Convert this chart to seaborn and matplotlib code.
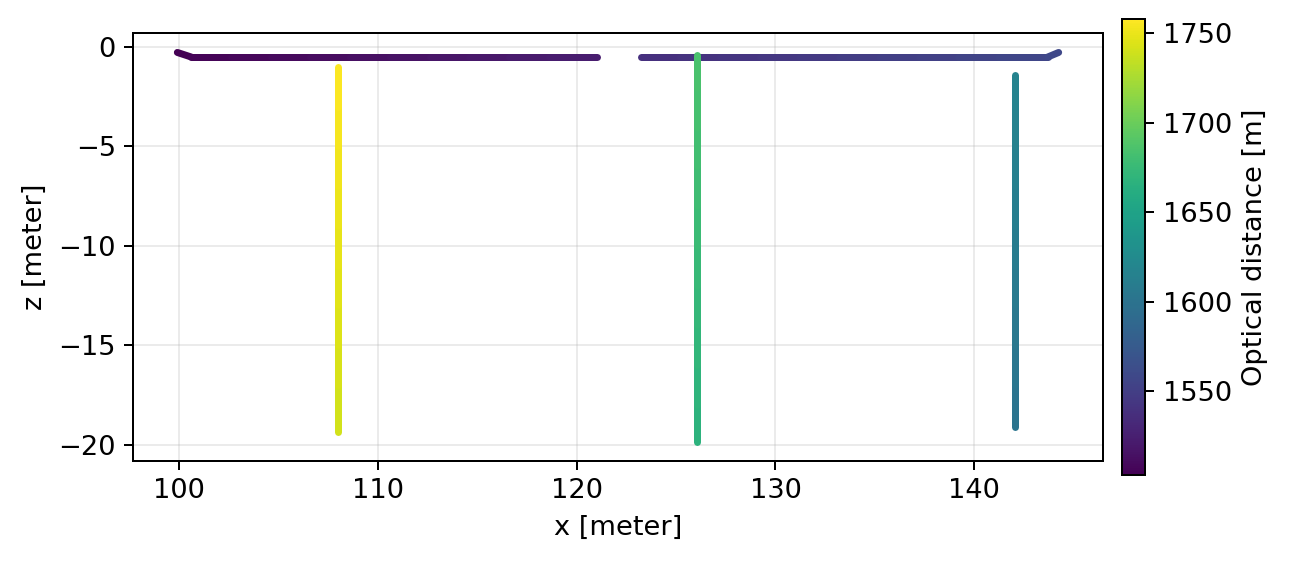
import numpy as np
import matplotlib
matplotlib.use("Agg")
import matplotlib.pyplot as plt
from matplotlib.collections import LineCollection
from matplotlib.colors import Normalize
import seaborn as sns

# ---- data ----
# Surface section A (left)
a_x = [99.9, 100.6, 102.6, 104.6, 106.6, 108.6, 110.6, 112.6, 114.6, 116.6, 118.6, 121.0]
a_z = [-0.27, -0.5, -0.5, -0.5, -0.5, -0.5, -0.5, -0.5, -0.5, -0.5, -0.5, -0.5]
a_d = [1503, 1504, 1506, 1508, 1510, 1512, 1514, 1516, 1518, 1520, 1522, 1524]

# Surface section B (right)
b_x = [123.25, 125.2, 127.2, 129.2, 131.2, 133.2, 135.2, 137.2, 139.2, 141.2, 143.7, 144.25]
b_z = [-0.5, -0.5, -0.5, -0.5, -0.5, -0.5, -0.5, -0.5, -0.5, -0.5, -0.5, -0.27]
b_d = [1537, 1539, 1541, 1543, 1545, 1547, 1549, 1551, 1553, 1555, 1558, 1559]

# Borehole at x = 142
c_x = [142.05] * 10
c_z = [-19.1, -17.0, -15.0, -13.0, -11.0, -9.0, -7.0, -5.0, -3.0, -1.4]
c_d = [1600, 1602, 1604, 1606, 1608, 1610, 1612, 1614, 1616, 1618]

# Borehole at x = 126
d_x = [126.03] * 11
d_z = [-19.85, -18.0, -16.0, -14.0, -12.0, -10.0, -8.0, -6.0, -4.0, -2.0, -0.4]
d_d = [1666, 1668, 1670, 1672, 1674, 1676, 1678, 1680, 1682, 1684, 1686]

# Borehole at x = 108
e_x = [107.97] * 10
e_z = [-19.35, -17.0, -15.0, -13.0, -11.0, -9.0, -7.0, -5.0, -3.0, -1.0]
e_d = [1740, 1742, 1744, 1746, 1748, 1750, 1752, 1754, 1756, 1758]

sections = [(a_x, a_z, a_d), (b_x, b_z, b_d), (c_x, c_z, c_d),
            (d_x, d_z, d_d), (e_x, e_z, e_d)]

# ---- style ----
sns.set_style("ticks")
plt.rcParams.update({
    "font.family": ["DejaVu Sans"],
    "font.size": 10.9,
    "axes.edgecolor": "black",
    "axes.labelcolor": "black",
    "text.color": "black",
    "xtick.color": "black",
    "ytick.color": "black",
    "axes.linewidth": 0.8,
})

cmap = sns.color_palette("viridis", as_cmap=True)
all_d = np.concatenate([np.asarray(s[2], float) for s in sections])
norm = Normalize(vmin=all_d.min(), vmax=all_d.max())

dpi = 180
fig = plt.figure(figsize=(1289 / dpi, 564 / dpi), dpi=dpi)
ax = fig.add_axes([133 / 1289, (564 - 461) / 564, 970 / 1289, 428 / 564])
cax = fig.add_axes([1122 / 1289, (564 - 475) / 564, 23 / 1289, 456 / 564])

ax.grid(True, color="#b0b0b0", alpha=0.25, linewidth=0.8)
ax.set_axisbelow(True)

for xs, zs, ds in sections:
    pts = np.column_stack([xs, zs])
    segs = np.stack([pts[:-1], pts[1:]], axis=1)
    vals = 0.5 * (np.asarray(ds[:-1], float) + np.asarray(ds[1:], float))
    lc = LineCollection(segs, cmap=cmap, norm=norm, linewidths=2.8,
                        capstyle="round", joinstyle="round")
    lc.set_array(vals)
    ax.add_collection(lc, autolim=True)

ax.autoscale_view()
ax.set_aspect("equal", adjustable="box")
ax.set_xlabel("x [meter]")
ax.set_ylabel("z [meter]")
ax.set_xticks([100, 110, 120, 130, 140])
ax.set_yticks([0, -5, -10, -15, -20])

sm = matplotlib.cm.ScalarMappable(norm=norm, cmap=cmap)
cb = fig.colorbar(sm, cax=cax)
cb.set_label("Optical distance [m]")
cb.set_ticks([1550, 1600, 1650, 1700, 1750])
cb.outline.set_linewidth(0.8)

fig.savefig("out.png", dpi=dpi)
